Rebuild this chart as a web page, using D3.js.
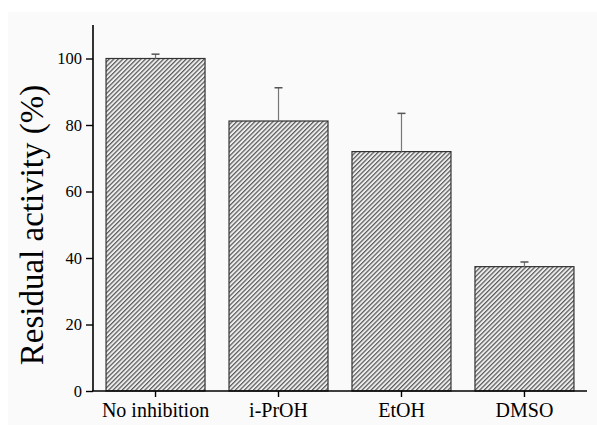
<!DOCTYPE html>
<html>
<head>
<meta charset="utf-8">
<script src="https://cdn.jsdelivr.net/npm/d3@7"></script>
<style>
  html, body { margin: 0; padding: 0; background: #ffffff; }
  svg { display: block; }
  text { font-family: 'Liberation Serif', 'Times New Roman', serif; }
</style>
</head>
<body>
<svg id="chart" width="597" height="425"></svg>
<script>
const categories = ["No inhibition", "i-PrOH", "EtOH", "DMSO"];
const values = [100, 81.2, 72.0, 37.4];
const errors = [1.3, 10.0, 11.5, 1.4];
const yTicks = [0, 20, 40, 60, 80, 100];
const yLabel = "Residual activity (%)";

const svg = d3.select("#chart");
const W = 597, H = 425;

// light background panel
svg.append("rect").attr("x", 8).attr("y", 12).attr("width", W - 8).attr("height", H - 12)
  .attr("fill", "#fafafa");

// hatch pattern
const defs = svg.append("defs");
const pat = defs.append("pattern")
  .attr("id", "hatch").attr("patternUnits", "userSpaceOnUse")
  .attr("width", 3.2).attr("height", 3.2)
  .attr("patternTransform", "rotate(45)");
pat.append("rect").attr("width", 3.2).attr("height", 3.2).attr("fill", "#eeeeee");
pat.append("line").attr("x1", 0.6).attr("y1", 0).attr("x2", 0.6).attr("y2", 3.2)
  .attr("stroke", "#5a5a5a").attr("stroke-width", 1.3);

const x0 = 93, x1 = 587;
const yBottom = 391, yTop100 = 58.5;

const x = d3.scaleBand().domain(categories).range([x0, x1])
  .paddingInner(0.195).paddingOuter(0.106);
const y = d3.scaleLinear().domain([0, 100]).range([yBottom, yTop100]);

const serif = "'Liberation Serif', 'Times New Roman', serif";

// bars
svg.append("g").selectAll("rect").data(categories).join("rect")
  .attr("x", d => x(d))
  .attr("y", (d, i) => y(values[i]))
  .attr("width", x.bandwidth())
  .attr("height", (d, i) => y(0) - y(values[i]))
  .attr("fill", "url(#hatch)")
  .attr("stroke", "#333")
  .attr("stroke-width", 1.2);

// error bars (upper only)
const eg = svg.append("g");
categories.forEach((c, i) => {
  const cx = x(c) + x.bandwidth() / 2;
  eg.append("line").attr("x1", cx).attr("x2", cx)
    .attr("y1", y(values[i])).attr("y2", y(values[i] + errors[i]))
    .attr("stroke", "#777").attr("stroke-width", 1.2);
  eg.append("line").attr("x1", cx - 4).attr("x2", cx + 4)
    .attr("y1", y(values[i] + errors[i])).attr("y2", y(values[i] + errors[i]))
    .attr("stroke", "#555").attr("stroke-width", 1.5);
});

// y axis
const yAxis = d3.axisLeft(y).tickValues(yTicks).tickSize(7).tickPadding(4).tickSizeOuter(0);
const gy = svg.append("g").attr("transform", `translate(${x0},0)`).call(yAxis)
  .attr("font-family", serif);
gy.select(".domain").remove();
gy.append("line").attr("x1", 0).attr("x2", 0).attr("y1", 25).attr("y2", yBottom)
  .attr("stroke", "#000").attr("stroke-width", 1.6);
gy.selectAll(".tick line").attr("stroke", "#000").attr("stroke-width", 1.4);
gy.selectAll(".tick text").style("font-family", serif).style("font-size", "16.5px").attr("fill", "#000");

// x axis
const xAxis = d3.axisBottom(x).tickSize(6).tickPadding(6).tickSizeOuter(0);
const gx = svg.append("g").attr("transform", `translate(0,${yBottom})`).call(xAxis)
  .attr("font-family", serif);
gx.select(".domain").remove();
gx.append("line").attr("x1", x0 - 1).attr("x2", x1).attr("y1", 0).attr("y2", 0)
  .attr("stroke", "#000").attr("stroke-width", 1.6);
gx.selectAll(".tick line").attr("stroke", "#000").attr("stroke-width", 1.4);
gx.selectAll(".tick text").style("font-family", serif).style("font-size", "20px").attr("fill", "#000");

// y label
svg.append("text")
  .attr("transform", `translate(43,225) rotate(-90)`)
  .attr("text-anchor", "middle")
  .style("font-family", serif).style("font-size", "33px").attr("fill", "#000")
  .text(yLabel);
</script>
</body>
</html>
